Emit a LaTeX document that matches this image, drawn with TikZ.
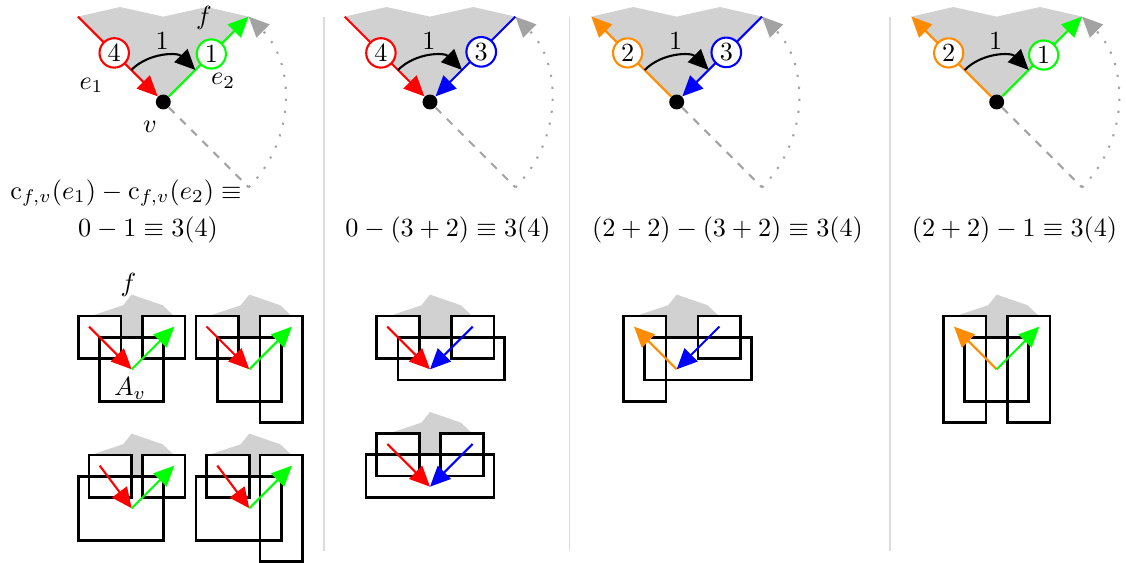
\documentclass[tikz,border=0pt]{standalone}
\usetikzlibrary{arrows.meta}
\definecolor{facegray}{gray}{0.82}
\definecolor{linegray}{gray}{0.64}
\definecolor{sepgray}{gray}{0.86}
\definecolor{myorange}{rgb}{1,0.55,0}
\tikzset{
  tip/.style={-{Triangle[length=7.8pt,width=7pt]}},
  edge/.style={line width=0.8pt},
  numcirc/.style={circle,draw=#1,fill=white,line width=0.8pt,inner sep=1pt},
  vdot/.style={circle,fill=black,inner sep=0pt,minimum size=5.7pt},
  lab/.style={inner sep=0pt},
  boxline/.style={line width=1.1pt},
  boxfill/.style={fill=white},
  dashline/.style={linegray,line width=0.8pt,dash pattern=on 3pt off 3pt},
  dotline/.style={linegray,line width=0.8pt,dash pattern=on 0.8pt off 3.8pt,-{Triangle[length=7.8pt,width=7pt]}},
  turn/.style={black,line width=0.8pt,-{Triangle[length=7.8pt,width=7pt]}},
  sepline/.style={sepgray,line width=0.6pt},
  panel/.style={shift={#1},scale=10.67,yscale=-1}
}
\begin{document}
\begin{tikzpicture}[x=0.3817pt,y=-0.3817pt]
\useasboundingbox (0,0) rectangle (1126,563);

% separators
\draw[sepline] (324,17) -- (324,551);
\draw[sepline] (569.5,17) -- (569.5,551);
\draw[sepline] (890,17) -- (890,551);

% ---------- Panel 1 ----------
\begin{scope}[panel={(163.3,102)}]
  \fill[facegray] (0,0) -- (-8,8) -- (-4.06,8.9) -- (0,8) -- (4.06,8.9) -- (8,8) -- cycle;
  \node[vdot] (v1) at (0,0) {};
  \coordinate (a1) at (-8,8);
  \coordinate (b1) at (8,8);
  \coordinate (d1) at (8,-8);
  \draw[dashline] (v1) -- (d1);
  \draw[dotline] (d1) arc[start angle=-45,end angle=45,radius=11.314];
  \draw[edge,red,tip] (a1) -- (v1);
  \draw[edge,green,tip] (v1) -- (b1);
  \node[numcirc=red] (n1a) at (-4.6,4.6) {4};
  \node[numcirc=green] (n1b) at (4.5,4.5) {1};
  \draw[turn] (-3,3) arc[start angle=135,end angle=45,radius=4.243];
  \node[lab] (t1) at (-0.1,5.75) {1};
  \node[lab] (f1) at (3.8,7.9) {$f$};
  \node[lab] (e1) at (-6.73,1.56) {$e_1$};
  \node[lab] (e2) at (5.6,2.0) {$e_2$};
  \node[lab] (vl) at (-1.25,-2.3) {$v$};
\end{scope}
\node (eq1a) at (126,193) {$\mathrm{c}_{f,v}(e_1)-\mathrm{c}_{f,v}(e_2)\equiv$};
\node (eq1b) at (148,230) {$0-1\equiv 3(4)$};

% ---------- Panel 2 ----------
\begin{scope}[panel={(430,102)}]
  \fill[facegray] (0,0) -- (-8,8) -- (-4.06,8.9) -- (0,8) -- (4.06,8.9) -- (8,8) -- cycle;
  \node[vdot] (v2) at (0,0) {};
  \coordinate (a2) at (-8,8);
  \coordinate (b2) at (8,8);
  \coordinate (d2) at (8,-8);
  \draw[dashline] (v2) -- (d2);
  \draw[dotline] (d2) arc[start angle=-45,end angle=45,radius=11.314];
  \draw[edge,red,tip] (a2) -- (v2);
  \draw[edge,blue,tip] (b2) -- (v2);
  \node[numcirc=red] (n2a) at (-4.6,4.6) {4};
  \node[numcirc=blue] (n2b) at (4.8,4.7) {3};
  \draw[turn] (-3,3) arc[start angle=135,end angle=45,radius=4.243];
  \node[lab] (t2) at (-0.1,5.75) {1};
\end{scope}
\node (eq2) at (448,230) {$0-(3+2)\equiv 3(4)$};

% ---------- Panel 3 ----------
\begin{scope}[panel={(676.7,102)}]
  \fill[facegray] (0,0) -- (-8,8) -- (-4.06,8.9) -- (0,8) -- (4.06,8.9) -- (8,8) -- cycle;
  \node[vdot] (v3) at (0,0) {};
  \coordinate (a3) at (-8,8);
  \coordinate (b3) at (8,8);
  \coordinate (d3) at (8,-8);
  \draw[dashline] (v3) -- (d3);
  \draw[dotline] (d3) arc[start angle=-45,end angle=45,radius=11.314];
  \draw[edge,myorange,tip] (v3) -- (a3);
  \draw[edge,blue,tip] (b3) -- (v3);
  \node[numcirc=myorange] (n3a) at (-4.6,4.6) {2};
  \node[numcirc=blue] (n3b) at (4.65,4.65) {3};
  \draw[turn] (-3,3) arc[start angle=135,end angle=45,radius=4.243];
  \node[lab] (t3) at (-0.1,5.75) {1};
\end{scope}
\node (eq3) at (727.5,230) {$(2+2)-(3+2)\equiv 3(4)$};

% ---------- Panel 4 ----------
\begin{scope}[panel={(996.7,102)}]
  \fill[facegray] (0,0) -- (-8,8) -- (-4.06,8.9) -- (0,8) -- (4.06,8.9) -- (8,8) -- cycle;
  \node[vdot] (v4) at (0,0) {};
  \coordinate (a4) at (-8,8);
  \coordinate (b4) at (8,8);
  \coordinate (d4) at (8,-8);
  \draw[dashline] (v4) -- (d4);
  \draw[dotline] (d4) arc[start angle=-45,end angle=45,radius=11.314];
  \draw[edge,myorange,tip] (v4) -- (a4);
  \draw[edge,green,tip] (v4) -- (b4);
  \node[numcirc=myorange] (n4a) at (-4.5,4.6) {2};
  \node[numcirc=green] (n4b) at (4.4,4.4) {1};
  \draw[turn] (-3,3) arc[start angle=135,end angle=45,radius=4.243];
  \node[lab] (t4) at (-0.1,5.75) {1};
\end{scope}
\node (eq4) at (1014.5,230) {$(2+2)-1\equiv 3(4)$};

% ---------- Sub-diagrams ----------
% S1
\begin{scope}[panel={(131.7,369.3)}]
  \fill[facegray] (0,0) -- (-3.5,5.1) -- (-0.8,6) -- (0,7) -- (2.9,6) -- (3.85,5.1) -- cycle;
  \path[boxfill] (-5,1) rectangle (-1,5) (1,1) rectangle (5,5) (-3,-3) rectangle (3,3);
  \draw[boxline] (-5,1) rectangle (-1,5) (1,1) rectangle (5,5) (-3,-3) rectangle (3,3);
  \coordinate (s1o) at (0,0);
  \coordinate (s1a) at (-4,4);
  \coordinate (s1b) at (4,4);
  \draw[edge,red,tip] (s1a) -- (s1o);
  \draw[edge,green,tip] (s1o) -- (s1b);
  \node[lab] (s1f) at (-0.3,7.9) {$f$};
  \node[lab] (s1A) at (-0.15,-1.8) {$A_v$};
\end{scope}
% S2
\begin{scope}[panel={(249.3,369.3)}]
  \fill[facegray] (0,0) -- (-3.5,5.1) -- (-0.8,6) -- (0,7) -- (2.9,6) -- (3.85,5.1) -- cycle;
  \path[boxfill] (-5,1) rectangle (-1,5) (-3,-3) rectangle (3,3) (1,-5) rectangle (5,5);
  \draw[boxline] (-5,1) rectangle (-1,5) (-3,-3) rectangle (3,3) (1,-5) rectangle (5,5);
  \coordinate (s2o) at (0,0);
  \coordinate (s2a) at (-4,4);
  \coordinate (s2b) at (4,4);
  \draw[edge,red,tip] (s2a) -- (s2o);
  \draw[edge,green,tip] (s2o) -- (s2b);
\end{scope}
% S3
\begin{scope}[panel={(131.7,508.3)}]
  \fill[facegray] (0,0) -- (-3.5,5.1) -- (-0.8,6) -- (0,7) -- (2.9,6) -- (3.85,5.1) -- cycle;
  \path[boxfill] (-4,1) rectangle (0,5) (1,1) rectangle (5,5) (-5,-3) rectangle (3,3);
  \draw[boxline] (-4,1) rectangle (0,5) (1,1) rectangle (5,5) (-5,-3) rectangle (3,3);
  \coordinate (s3o) at (0,0);
  \coordinate (s3a) at (-3,4);
  \coordinate (s3b) at (4,4);
  \draw[edge,red,tip] (s3a) -- (s3o);
  \draw[edge,green,tip] (s3o) -- (s3b);
\end{scope}
% S4
\begin{scope}[panel={(249.3,508.3)}]
  \fill[facegray] (0,0) -- (-3.5,5.1) -- (-0.8,6) -- (0,7) -- (2.9,6) -- (3.85,5.1) -- cycle;
  \path[boxfill] (-4,1) rectangle (0,5) (-5,-3) rectangle (3,3) (1,-5) rectangle (5,5);
  \draw[boxline] (-4,1) rectangle (0,5) (-5,-3) rectangle (3,3) (1,-5) rectangle (5,5);
  \coordinate (s4o) at (0,0);
  \coordinate (s4a) at (-3,4);
  \coordinate (s4b) at (4,4);
  \draw[edge,red,tip] (s4a) -- (s4o);
  \draw[edge,green,tip] (s4o) -- (s4b);
\end{scope}
% S5
\begin{scope}[panel={(430,369.3)}]
  \fill[facegray] (0,0) -- (-3.5,5.1) -- (-0.8,6) -- (0,7) -- (2.9,6) -- (3.85,5.1) -- cycle;
  \path[boxfill] (-5,1) rectangle (-1,5) (2,1) rectangle (6,5) (-3,-1) rectangle (7,3);
  \draw[boxline] (-5,1) rectangle (-1,5) (2,1) rectangle (6,5) (-3,-1) rectangle (7,3);
  \coordinate (s5o) at (0,0);
  \coordinate (s5a) at (-4,4);
  \coordinate (s5b) at (4,4);
  \draw[edge,red,tip] (s5a) -- (s5o);
  \draw[edge,blue,tip] (s5b) -- (s5o);
\end{scope}
% S6
\begin{scope}[panel={(430,486.7)}]
  \fill[facegray] (0,0) -- (-3.5,5.1) -- (-0.8,6) -- (0,7) -- (2.9,6) -- (3.85,5.1) -- cycle;
  \path[boxfill] (-5,1) rectangle (-1,5) (1,1) rectangle (5,5) (-6,-1) rectangle (6,3);
  \draw[boxline] (-5,1) rectangle (-1,5) (1,1) rectangle (5,5) (-6,-1) rectangle (6,3);
  \coordinate (s6o) at (0,0);
  \coordinate (s6a) at (-4,4);
  \coordinate (s6b) at (4,4);
  \draw[edge,red,tip] (s6a) -- (s6o);
  \draw[edge,blue,tip] (s6b) -- (s6o);
\end{scope}
% S7
\begin{scope}[panel={(676.7,369.3)}]
  \fill[facegray] (0,0) -- (-3.5,5.1) -- (-0.8,6) -- (0,7) -- (2.9,6) -- (3.85,5.1) -- cycle;
  \path[boxfill] (-5,-3) rectangle (-1,5) (2,1) rectangle (6,5) (-3,-1) rectangle (7,3);
  \draw[boxline] (-5,-3) rectangle (-1,5) (2,1) rectangle (6,5) (-3,-1) rectangle (7,3);
  \coordinate (s7o) at (0,0);
  \coordinate (s7a) at (-4,4);
  \coordinate (s7b) at (4,4);
  \draw[edge,myorange,tip] (s7o) -- (s7a);
  \draw[edge,blue,tip] (s7b) -- (s7o);
\end{scope}
% S8
\begin{scope}[panel={(996.7,369.3)}]
  \fill[facegray] (0,0) -- (-3.5,5.1) -- (-0.8,6) -- (0,7) -- (2.9,6) -- (3.85,5.1) -- cycle;
  \path[boxfill] (-5,-5) rectangle (-1,5) (1,-5) rectangle (5,5) (-3,-3) rectangle (3,3);
  \draw[boxline] (-5,-5) rectangle (-1,5) (1,-5) rectangle (5,5) (-3,-3) rectangle (3,3);
  \coordinate (s8o) at (0,0);
  \coordinate (s8a) at (-4,4);
  \coordinate (s8b) at (4,4);
  \draw[edge,myorange,tip] (s8o) -- (s8a);
  \draw[edge,green,tip] (s8o) -- (s8b);
\end{scope}
\end{tikzpicture}
\end{document}
